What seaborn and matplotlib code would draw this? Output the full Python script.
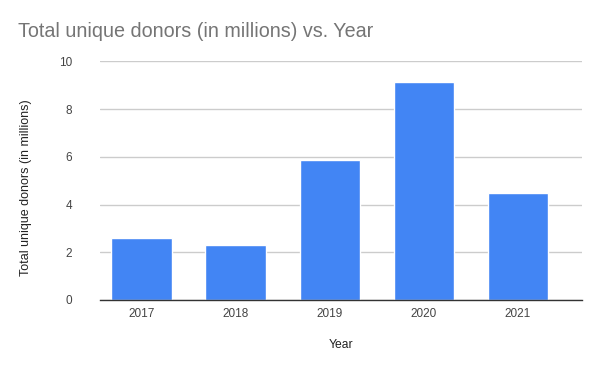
import pandas as pd
import matplotlib
matplotlib.use("Agg")
import matplotlib.pyplot as plt
import seaborn as sns

### Data
years = ["2017", "2018", "2019", "2020", "2021"]
donors = [2.58, 2.29, 5.87, 9.13, 4.47]

df = pd.DataFrame({"Year": years, "Donors": donors})

sns.set_style("white")
plt.rcParams["font.family"] = ["Liberation Sans", "DejaVu Sans"]

fig = plt.figure(figsize=(6, 3.71), dpi=100)
ax = fig.add_axes([0.1667, 0.1914, 0.8033, 0.6434])

sns.barplot(data=df, x="Year", y="Donors", color="#4285F4",
            width=0.64, saturation=1, ax=ax, zorder=2)

ax.set_ylim(0, 10)
ax.set_yticks([0, 2, 4, 6, 8, 10])
ax.set_xlim(-0.44, 4.68)
ax.yaxis.grid(True, color="#cccccc", linewidth=1, zorder=0)
ax.set_axisbelow(True)

for side in ["top", "right", "left"]:
    ax.spines[side].set_visible(False)
ax.spines["bottom"].set_color("#333333")
ax.spines["bottom"].set_linewidth(1)

ax.tick_params(axis="both", length=0, labelsize=8.5, labelcolor="#444444")
ax.tick_params(axis="x", pad=6)
ax.tick_params(axis="y", pad=20)

ax.set_xlabel("Year", fontsize=8.7, color="#222222")
ax.xaxis.set_label_coords(0.5, -0.165)
ax.set_ylabel("Total unique donors (in millions)", fontsize=9, color="#222222")
ax.yaxis.set_label_coords(-0.141, 0.47)

fig.text(0.03, 0.915, "Total unique donors (in millions) vs. Year",
         fontsize=14.2, color="#757575", va="center", ha="left")

fig.savefig("out.png", dpi=100)
